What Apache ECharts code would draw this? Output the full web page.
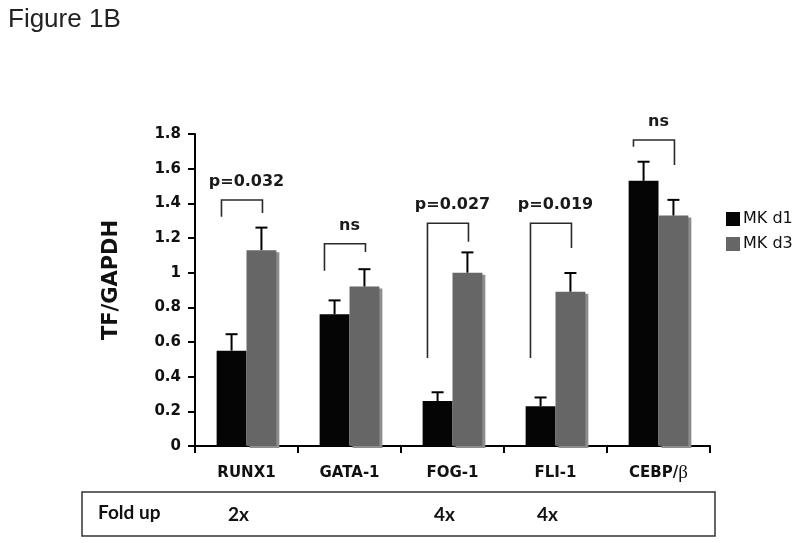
<!DOCTYPE html>
<html>
<head>
<meta charset="utf-8">
<script src="https://cdn.jsdelivr.net/npm/echarts@6/dist/echarts.min.js"></script>
<style>html,body{margin:0;padding:0;background:#fff}#c{width:800px;height:543px}</style>
</head>
<body>
<div id="c"></div>
<script>
const categories = ['RUNX1', 'GATA-1', 'FOG-1', 'FLI-1', 'CEBP/β'];
const mkD1 = [0.55, 0.76, 0.26, 0.23, 1.53];
const mkD1Err = [0.095, 0.08, 0.05, 0.05, 0.11];
const mkD3 = [1.13, 0.92, 1.00, 0.89, 1.33];
const mkD3Err = [0.13, 0.10, 0.117, 0.108, 0.09];
const sigLabels = ['p=0.032', 'ns', 'p=0.027', 'p=0.019', 'ns'];
const bracketLeftY = [1.323, 1.011, 0.508, 0.508, 1.727];
const bracketRightY = [1.344, 1.119, 1.179, 1.142, 1.621];
const bracketTopY = [1.419, 1.167, 1.285, 1.285, 1.765];
const foldUp = ['2x', '', '4x', '4x', ''];

const chart = echarts.init(document.getElementById('c'), null, {renderer: 'canvas'});
const FONT = '"DejaVu Sans", Verdana, sans-serif';

function errRender(sign) {
  return function (params, api) {
    const i = api.value(0), v = api.value(1), e = api.value(2);
    const w = api.size([1, 0])[0];
    const off = sign * w * 0.29 / 2;
    const p0 = api.coord([i, v]);
    const p1 = api.coord([i, v + e]);
    const x = p0[0] + off;
    return {
      type: 'group',
      children: [
        {type: 'line', shape: {x1: x, y1: p0[1], x2: x, y2: p1[1]}, style: {stroke: '#000', lineWidth: 2}},
        {type: 'line', shape: {x1: x - 6, y1: p1[1], x2: x + 6, y2: p1[1]}, style: {stroke: '#000', lineWidth: 2}}
      ]
    };
  };
}

function bracketRender(params, api) {
  const i = params.dataIndex;
  const w = api.size([1, 0])[0];
  const c = api.coord([i, 0])[0];
  const xl = c - w * 0.243, xr = c + w * 0.155;
  const yl = api.coord([i, bracketLeftY[i]])[1];
  const yr = api.coord([i, bracketRightY[i]])[1];
  const yt = api.coord([i, bracketTopY[i]])[1];
  return {
    type: 'group',
    children: [
      {type: 'polyline', shape: {points: [[xl, yl], [xl, yt], [xr, yt], [xr, yr]]},
        style: {stroke: '#2a2a2a', lineWidth: 1.6, fill: null}},
      {type: 'text', x: c, y: yt - 18,
        style: {text: sigLabels[i], align: 'center', verticalAlign: 'middle',
          font: 'bold 16px ' + FONT, fill: '#1a1a1a'}}
    ]
  };
}

function foldRender(params, api) {
  const i = params.dataIndex;
  const c = api.coord([i, 0])[0];
  return {
    type: 'text', x: c - 8, y: 515,
    style: {text: foldUp[i], align: 'center', verticalAlign: 'middle',
      font: 'bold 19px Lato, "Open Sans", sans-serif', fill: '#111'}
  };
}

const option = {
  animation: false,
  backgroundColor: '#fff',
  title: {
    text: 'Figure 1B', left: 3, top: 2,
    textStyle: {fontFamily: '"Liberation Sans", Arial, sans-serif', fontWeight: 'normal', fontSize: 26, color: '#222'}
  },
  legend: {
    orient: 'vertical', left: 726, top: 211, padding: 0,
    itemWidth: 14, itemHeight: 14, itemGap: 9, icon: 'rect',
    data: ['MK d1', 'MK d3'],
    itemStyle: {shadowColor: 'transparent', shadowOffsetX: 0, shadowOffsetY: 0, shadowBlur: 0},
    textStyle: {fontFamily: FONT, fontSize: 16, color: '#111', padding: [0, 0, 0, -2]}
  },
  grid: {left: 195, right: 90, top: 134, bottom: 97, containLabel: false},
  xAxis: {
    type: 'category',
    data: categories,
    boundaryGap: true,
    axisLine: {lineStyle: {color: '#000', width: 2}},
    axisTick: {show: true, length: 7, inside: false, lineStyle: {color: '#000', width: 2}},
    axisLabel: {
      interval: 0, margin: 17, color: '#111',
      formatter: function (v) {
        return v.indexOf('β') >= 0 ? '{a|' + v.replace('β', '') + '}{b|β}' : '{a|' + v + '}';
      },
      rich: {
        a: {fontFamily: FONT, fontWeight: 'bold', fontSize: 15, color: '#111', lineHeight: 20},
        b: {fontFamily: '"Liberation Serif", "DejaVu Serif", serif', fontWeight: 'normal', fontSize: 19, color: '#111', lineHeight: 20}
      }
    }
  },
  yAxis: {
    type: 'value', min: 0, max: 1.8, interval: 0.2,
    axisLine: {show: true, lineStyle: {color: '#000', width: 2}},
    axisTick: {show: true, length: 7, lineStyle: {color: '#000', width: 2}},
    splitLine: {show: false},
    axisLabel: {margin: 14, color: '#111', fontFamily: FONT, fontWeight: 'bold', fontSize: 15}
  },
  series: [
    {
      name: 'MK d1', type: 'bar', data: mkD1,
      barGap: '0%', barCategoryGap: '42%',
      itemStyle: {color: '#050505'}, z: 2
    },
    {
      name: 'MK d3', type: 'bar', data: mkD3,
      barGap: '0%', barCategoryGap: '42%',
      itemStyle: {color: '#666666', shadowColor: '#8e8e8e', shadowOffsetX: 3, shadowOffsetY: 2, shadowBlur: 0}, z: 2
    },
    {
      type: 'custom', name: 'errD1', renderItem: errRender(-1), z: 5,
      data: categories.map((c, i) => [i, mkD1[i], mkD1Err[i]]),
      encode: {x: 0, y: 1}, silent: true
    },
    {
      type: 'custom', name: 'errD3', renderItem: errRender(1), z: 5,
      data: categories.map((c, i) => [i, mkD3[i], mkD3Err[i]]),
      encode: {x: 0, y: 1}, silent: true
    },
    {
      type: 'custom', name: 'brackets', renderItem: bracketRender, z: 6, clip: false,
      data: categories.map((c, i) => [i, bracketTopY[i]]),
      encode: {x: 0, y: 1}, silent: true
    },
    {
      type: 'custom', name: 'fold', renderItem: foldRender, z: 6, clip: false,
      data: categories.map((c, i) => [i, 0]),
      encode: {x: 0, y: 1}, silent: true
    }
  ],
  graphic: [
    {type: 'text', x: 112, y: 280, rotation: Math.PI / 2,
      style: {text: 'TF/GAPDH', align: 'center', verticalAlign: 'middle',
        font: 'bold 21px ' + FONT, fill: '#111'}, z: 10},
    {type: 'rect', shape: {x: 82, y: 492, width: 633, height: 44},
      style: {fill: null, stroke: '#333', lineWidth: 1.5}, z: 10},
    {type: 'text', left: 98, top: 503,
      style: {text: 'Fold up', font: 'bold 19px Lato, "Open Sans", sans-serif', fill: '#111'}, z: 10}
  ]
};
chart.setOption(option);
</script>
</body>
</html>
